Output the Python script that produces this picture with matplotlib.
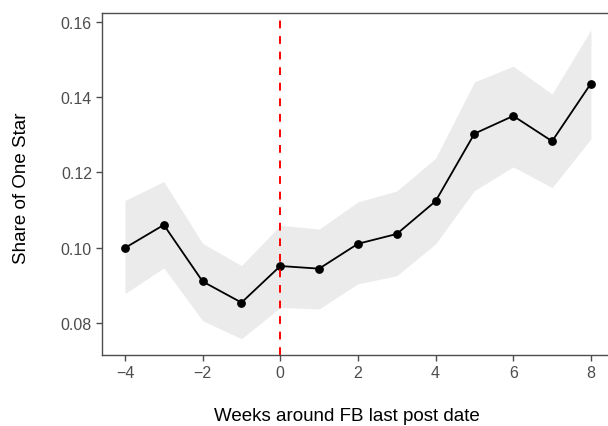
import numpy as np
import matplotlib.pyplot as plt

plt.rcParams["font.family"] = ["Liberation Sans", "DejaVu Sans"]

# Data
weeks = [-4, -3, -2, -1, 0, 1, 2, 3, 4, 5, 6, 7, 8]
share = [0.1000, 0.1061, 0.0911, 0.0855, 0.0952, 0.0945, 0.1011,
         0.1037, 0.1124, 0.1303, 0.1350, 0.1283, 0.1436]
lower = [0.0879, 0.0947, 0.0807, 0.0759, 0.0842, 0.0838, 0.0905,
         0.0926, 0.1011, 0.1152, 0.1215, 0.1160, 0.1289]
upper = [0.1126, 0.1176, 0.1012, 0.0953, 0.1060, 0.1050, 0.1122,
         0.1151, 0.1238, 0.1440, 0.1482, 0.1408, 0.1578]

fig = plt.figure(figsize=(6.08, 4.27), dpi=100)
W, H = 608, 427
ax = fig.add_axes([101.7 / W, 1 - 356 / H, (608 - 101.7) / W, (356 - 14) / H])

ax.fill_between(weeks, lower, upper, color="#EBEBEB", linewidth=0, zorder=1)
ax.plot(weeks, share, color="black", linewidth=1.3, zorder=3)
ax.scatter(weeks, share, color="black", s=28, zorder=4)
ax.axvline(0, color="red", linestyle=(0, (4, 4)), linewidth=1.4, zorder=5)

ax.set_xlim(-4.6, 8.44)
ax.set_ylim(0.0716, 0.1623)
ax.set_xticks([-4, -2, 0, 2, 4, 6, 8])
ax.set_xticklabels(["\u22124", "\u22122", "0", "2", "4", "6", "8"])
ax.set_yticks([0.08, 0.10, 0.12, 0.14, 0.16])
ax.set_yticklabels(["0.08", "0.10", "0.12", "0.14", "0.16"])

for side in ["left", "bottom", "top"]:
    ax.spines[side].set_color("#4D4D4D")
    ax.spines[side].set_linewidth(1.0)
ax.spines["right"].set_visible(False)
ax.tick_params(colors="#4D4D4D", labelcolor="#4D4D4D", labelsize=11.5,
               length=4, width=1.0, pad=3)

fig.text(347 / W, 1 - 417 / H, "Weeks around FB last post date",
         fontsize=13.5, ha="center", va="center")
fig.text(22 / W, 1 - 188 / H, "Share of One Star", fontsize=13.5,
         rotation=90, ha="center", va="center")

fig.savefig("out.png", dpi=100)
